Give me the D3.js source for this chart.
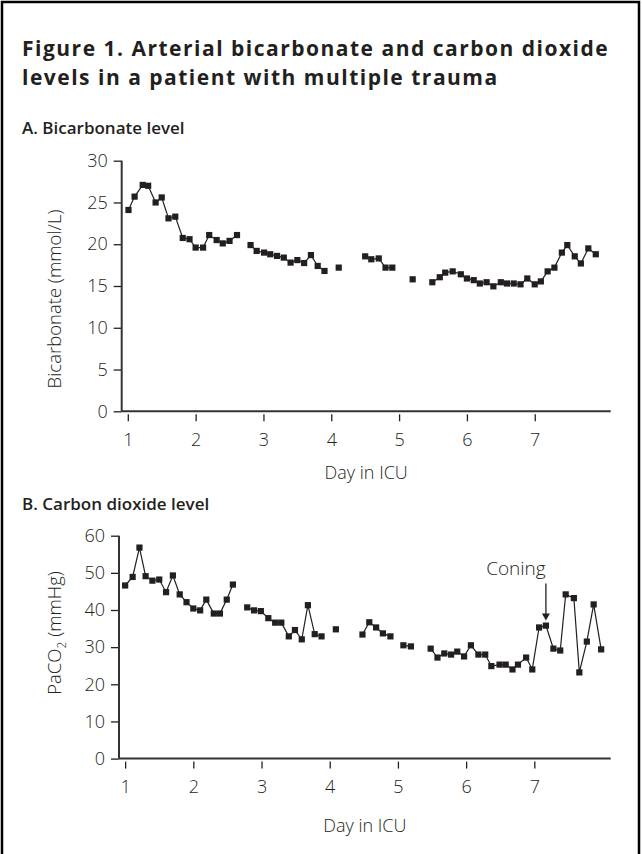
<!DOCTYPE html>
<html><head><meta charset="utf-8">
<script src="https://cdn.jsdelivr.net/npm/d3@7"></script>
<style>
html,body{margin:0;padding:0;background:#fff;}
svg{display:block;}
</style></head>
<body>
<svg id="chart" width="642" height="854"></svg>
<script>
// ---- data ----
const xTicks = [1, 2, 3, 4, 5, 6, 7];
const bicarbTicks = [0, 5, 10, 15, 20, 25, 30];
const co2Ticks = [0, 10, 20, 30, 40, 50, 60];

const bicarbDay = [1.01,1.10,1.22,1.30,1.41,1.50,1.60,1.70,1.81,1.91,2.00,2.11,2.20,2.31,2.40,2.50,2.61,
  2.81,2.90,3.01,3.10,3.20,3.30,3.40,3.50,3.60,3.70,3.80,3.90,
  4.11,
  4.50,4.59,4.70,4.80,4.90,
  5.20,
  5.49,5.60,5.68,5.79,5.91,6.00,6.10,6.19,6.29,6.39,6.50,6.59,6.69,6.79,6.89,7.00,7.09,7.19,7.29,7.40,7.48,7.59,7.68,7.79,7.90];
const bicarbVal = [24.1,25.7,27.1,27.0,25.0,25.6,23.1,23.3,20.75,20.6,19.6,19.6,21.1,20.5,20.1,20.4,21.1,
  19.9,19.2,19.0,18.8,18.6,18.4,17.8,18.1,17.75,18.7,17.4,16.8,
  17.2,
  18.55,18.2,18.3,17.2,17.2,
  15.8,
  15.45,16.05,16.6,16.75,16.4,15.9,15.7,15.3,15.45,14.96,15.45,15.3,15.3,15.2,15.9,15.2,15.55,16.75,17.2,19.0,19.9,18.55,17.7,19.5,18.8];
const bicarbSeg = [0,0,0,0,0,0,0,0,0,0,0,0,0,0,0,0,0,
  1,1,1,1,1,1,1,1,1,1,1,1,
  2,
  3,3,3,3,3,
  4,
  5,5,5,5,5,5,5,5,5,5,5,5,5,5,5,5,5,5,5,5,5,5,5,5,5];

const co2Day = [1.00,1.11,1.21,1.30,1.40,1.50,1.60,1.70,1.80,1.90,2.00,2.10,2.19,2.30,2.39,2.49,2.58,
  2.79,2.89,2.99,3.10,3.20,3.29,3.40,3.49,3.59,3.68,3.78,3.88,
  4.09,
  4.48,4.58,4.68,4.78,4.89,
  5.08,5.19,
  5.48,5.58,5.68,5.78,5.87,5.97,6.07,6.18,6.28,6.37,6.49,6.58,6.68,6.76,6.88,6.97,7.07,7.17,7.28,7.38,7.46,7.58,7.66,7.77,7.87,7.98];
const co2Val = [46.6,48.9,56.8,49.1,47.9,48.2,44.8,49.3,44.2,42.1,40.4,39.9,42.8,39.05,39.05,42.8,46.85,
  40.7,39.9,39.7,37.8,36.6,36.6,32.9,34.6,32.1,41.3,33.5,32.9,
  34.8,
  33.4,36.7,35.3,33.7,32.9,
  30.5,30.2,
  29.6,27.2,28.3,28.0,28.8,27.5,30.5,28.0,28.0,24.9,25.3,25.3,24.0,25.3,27.2,24.0,35.3,35.8,29.6,29.1,44.2,43.2,23.2,31.5,41.5,29.4];
const co2Seg = [0,0,0,0,0,0,0,0,0,0,0,0,0,0,0,0,0,
  1,1,1,1,1,1,1,1,1,1,1,1,
  2,
  3,3,3,3,3,
  4,4,
  5,5,5,5,5,5,5,5,5,5,5,5,5,5,5,5,5,5,5,5,5,5,5,5,5,5];

const coningDay = 7.17, coningVal = 35.8;

// ---- drawing ----
const svg = d3.select("#chart");
const INK = "#231f20";
const lightFont = "'Open Sans', Lato, sans-serif";
const FS = 18;

// frame
svg.append("path")
  .attr("d", "M2,860 L2,2 L639,2 L639,860")
  .attr("fill", "none").attr("stroke", "#000").attr("stroke-width", 2.5);

// title: fixed size, letter-spaced so the first line spans the reference width
const title = svg.append("g").attr("font-family", "'Open Sans', Lato, sans-serif")
  .attr("font-weight", 700).attr("fill", INK).attr("font-size", 21);
const t1 = title.append("text").attr("x", 22).attr("y", 56)
  .text("Figure 1. Arterial bicarbonate and carbon dioxide");
const t2 = title.append("text").attr("x", 22).attr("y", 85)
  .text("levels in a patient with multiple trauma");
const w1 = t1.node().getComputedTextLength();
const ls = Math.max(0, Math.min(1.5, (590 - w1) / 48));
t1.attr("letter-spacing", ls); t2.attr("letter-spacing", ls);

function panel(cfg) {
  const x = d3.scaleLinear().domain([0.91, 8.12]).range(cfg.xRange);
  const y = d3.scaleLinear().domain(cfg.yDomain).range(cfg.yRange);
  const g = svg.append("g");

  g.append("text").attr("x", 22).attr("y", cfg.subY)
    .attr("font-family", "'Open Sans', Lato, sans-serif").attr("font-weight", 600)
    .attr("font-size", 17).attr("fill", INK).text(cfg.sub);

  // x axis
  const xa = g.append("g").attr("transform", `translate(0,${cfg.yRange[0]})`)
    .call(d3.axisBottom(x).tickValues(xTicks).tickFormat(d3.format("d")).tickSize(10).tickPadding(12));
  xa.select(".domain").remove();
  xa.selectAll(".tick line").attr("y1", 3).attr("stroke", INK).attr("stroke-width", 1.3);
  xa.selectAll(".tick text").attr("font-family", lightFont).attr("font-weight", 300)
    .attr("font-size", FS).attr("fill", INK);
  g.append("line").attr("x1", cfg.xRange[0]).attr("x2", cfg.xRange[1])
    .attr("y1", cfg.yRange[0]).attr("y2", cfg.yRange[0])
    .attr("stroke", "#333").attr("stroke-width", 2);

  // y axis
  const ya = g.append("g").attr("transform", `translate(${cfg.xRange[0]},0)`)
    .call(d3.axisLeft(y).tickValues(cfg.ticks).tickSize(8).tickPadding(6));
  ya.select(".domain").remove();
  ya.selectAll(".tick line").attr("stroke", INK).attr("stroke-width", 1.3);
  ya.selectAll(".tick text").attr("font-family", lightFont).attr("font-weight", 300)
    .attr("font-size", FS).attr("fill", INK);
  g.append("line").attr("x1", cfg.xRange[0]).attr("x2", cfg.xRange[0])
    .attr("y1", cfg.yRange[1]).attr("y2", cfg.yRange[0])
    .attr("stroke", "#333").attr("stroke-width", 2);

  // axis titles
  g.append("text").attr("x", (cfg.xRange[0] + cfg.xRange[1]) / 2).attr("y", cfg.yRange[0] + cfg.xTitleOff)
    .attr("text-anchor", "middle").attr("font-family", lightFont).attr("font-weight", 300)
    .attr("font-size", FS).attr("fill", INK).text("Day in ICU");
  const yt = g.append("text")
    .attr("transform", `translate(61,${cfg.yTitleY}) rotate(-90)`)
    .attr("text-anchor", "middle").attr("font-family", lightFont).attr("font-weight", 300)
    .attr("font-size", FS + 0.5).attr("fill", INK);
  cfg.yLabel(yt);

  // data
  const pts = cfg.day.map((d, i) => ({ d, v: cfg.val[i], s: cfg.seg[i] }));
  const groups = d3.groups(pts, p => p.s);
  const line = d3.line().x(p => x(p.d)).y(p => y(p.v));
  g.append("g").selectAll("path").data(groups).join("path")
    .attr("d", gr => line(gr[1])).attr("fill", "none")
    .attr("stroke", INK).attr("stroke-width", 1.2);
  const S = 6.2;
  g.append("g").selectAll("rect").data(pts).join("rect")
    .attr("x", p => x(p.d) - S / 2).attr("y", p => y(p.v) - S / 2)
    .attr("width", S).attr("height", S).attr("fill", INK);

  return { x, y, g };
}

panel({
  sub: "A. Bicarbonate level", subY: 134,
  xRange: [121.7, 610.7], yDomain: [0, 30], yRange: [411.3, 160.7],
  ticks: bicarbTicks, day: bicarbDay, val: bicarbVal, seg: bicarbSeg,
  xTitleOff: 68, yTitleY: 299,
  yLabel: t => t.text("Bicarbonate (mmol/L)")
});

const pB = panel({
  sub: "B. Carbon dioxide level", subY: 510,
  xRange: [119, 610.7], yDomain: [0, 60], yRange: [758.6, 535.7],
  ticks: co2Ticks, day: co2Day, val: co2Val, seg: co2Seg,
  xTitleOff: 73, yTitleY: 633,
  yLabel: t => {
    t.append("tspan").text("PaCO");
    t.append("tspan").attr("font-size", 12).attr("dy", 5).text("2");
    t.append("tspan").attr("dy", -5).text(" (mmHg)");
  }
});

// Coning annotation
const cx = pB.x(coningDay), cy = pB.y(coningVal);
pB.g.append("text").attr("x", cx - 30).attr("y", cy - 51)
  .attr("text-anchor", "middle").attr("font-family", lightFont).attr("font-weight", 300)
  .attr("font-size", FS + 1).attr("fill", INK).text("Coning");
pB.g.append("line").attr("x1", cx).attr("x2", cx).attr("y1", cy - 42).attr("y2", cy - 9)
  .attr("stroke", INK).attr("stroke-width", 1.3);
pB.g.append("path")
  .attr("d", `M${cx - 4},${cy - 12} L${cx + 4},${cy - 12} L${cx},${cy - 5} Z`)
  .attr("fill", INK);
</script>
</body></html>
